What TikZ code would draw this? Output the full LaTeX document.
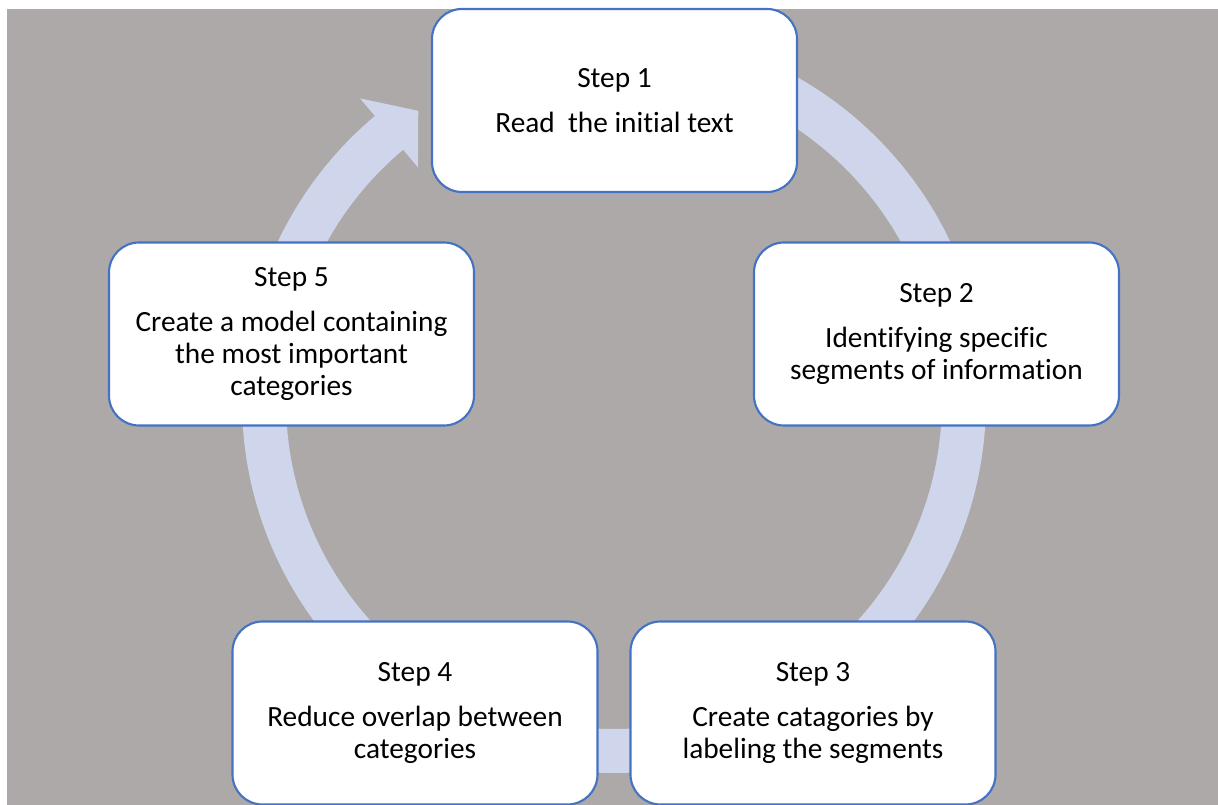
\documentclass[tikz,border=0pt]{standalone}
\usepackage{fontspec}
\setmainfont{Carlito}[Ligatures=CommonOff]
\definecolor{bggray}{HTML}{ADA9A8}
\definecolor{bandblue}{HTML}{CFD5EA}
\definecolor{boxblue}{HTML}{4472C4}

\begin{document}
\begin{tikzpicture}[x=0.75pt,y=0.75pt,
        stepbox/.style={draw=boxblue, line width=1.6pt, fill=white, rounded corners=22.5pt,
            minimum width=273.75pt, minimum height=137.25pt, inner sep=0pt,
            align=center, font=\fontsize{22pt}{24pt}\selectfont}]
        \useasboundingbox (-614,-404) rectangle (604,401);

        % draw the background
        \fill[bggray] (-607,-404) rectangle (604,392);

        % draw the cycle arrow
        \fill[bandblue] (90:279pt) arc[start angle=90, end angle=-230, radius=279pt]
            -- (130:296.25pt) -- (124:262.5pt) -- (130:228.75pt) -- (130:246pt)
            arc[start angle=-230, end angle=90, radius=246pt] -- cycle;

        % draw the steps
        \node[stepbox] (step1) at (0.5,300.5) {Step 1\\[9.5pt]Read\ \ the initial text};
        \node[stepbox] (step2) at (322.5,67) {Step 2\\[9.5pt]Identifying specific\\segments of information};
        \node[stepbox] (step3) at (199,-312) {Step 3\\[9.5pt]Create catagories by\\labeling the segments};
        \node[stepbox] (step4) at (-199,-312) {Step 4\\[9.5pt]Reduce overlap between\\categories};
        \node[stepbox] (step5) at (-322.5,67) {Step 5\\[9.5pt]Create a model containing\\the most important\\categories};
    \end{tikzpicture}
\end{document}
